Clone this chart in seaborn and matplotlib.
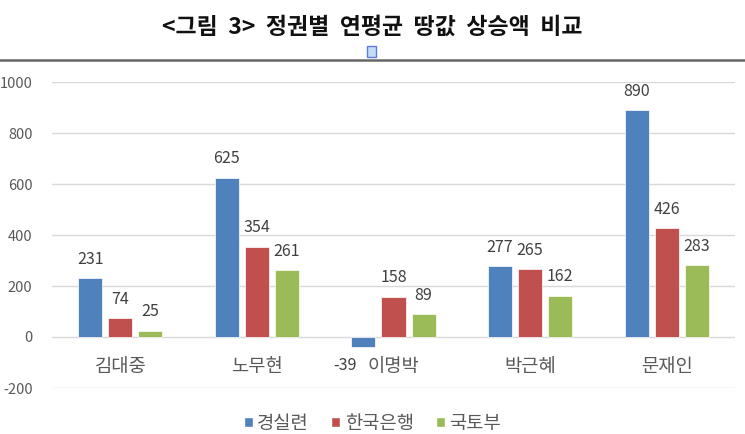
import matplotlib
matplotlib.use("Agg")
import matplotlib.pyplot as plt
import seaborn as sns
import pandas as pd
from matplotlib.patches import Rectangle
from matplotlib.lines import Line2D

categories = ["김대중", "노무현", "이명박", "박근혜", "문재인"]
series = ["경실련", "한국은행", "국토부"]
v_gyeongsil = [231, 625, -39, 277, 890]
v_bok = [74, 354, 158, 265, 426]
v_molit = [25, 261, 89, 162, 283]
yticks = [-200, 0, 200, 400, 600, 800, 1000]
colors = ["#4F81BD", "#C0504D", "#9BBB59"]
title = "<그림  3>  정권별  연평균  땅값  상승액  비교"

rows = []
for name, vals in zip(series, [v_gyeongsil, v_bok, v_molit]):
    for c, v in zip(categories, vals):
        rows.append({"cat": c, "series": name, "value": v})
df = pd.DataFrame(rows)

sns.set_theme(style="white")
plt.rcParams['font.family'] = ['Noto Sans CJK KR', 'DejaVu Sans']

fig = plt.figure(figsize=(7.45, 4.34), dpi=100)
ax = fig.add_axes([52/745, 1-388/434, (735-52)/745, (388-82)/434])

sns.barplot(data=df, x="cat", y="value", hue="series", order=categories,
            hue_order=series, palette=colors, width=0.66, gap=0.2,
            saturation=1, ax=ax, legend=False, edgecolor="white", linewidth=0.5)

ax.set_ylim(-200, 1000)
ax.set_xlim(-0.5, len(categories) - 0.5)
ax.set_yticks(yticks)
ax.set_yticklabels([str(t) for t in yticks], color="#595959", fontsize=10.5)
ax.tick_params(axis="y", length=0, pad=14)
ax.set_xticks([])
ax.set_xlabel("")
ax.set_ylabel("")
for s in ax.spines.values():
    s.set_visible(False)
ax.yaxis.grid(True, color="#D9D9D9", linewidth=1)
ax.set_axisbelow(True)

# data labels
for cont in ax.containers:
    for bar in cont:
        h = bar.get_height()
        x = bar.get_x() + bar.get_width() / 2
        if h >= 0:
            ax.annotate(f"{int(round(h))}", (x, h), xytext=(0, 13.5), textcoords="offset points",
                        ha="center", va="center", fontsize=11.5, color="#404040")
        else:
            ax.annotate(f"{int(round(h))}", (x, h), xytext=(-13, -13), textcoords="offset points",
                        ha="center", va="center", fontsize=11.5, color="#404040")

# category labels near zero line
for i, c in enumerate(categories):
    ax.annotate(c, (i, 0), xytext=(0, -21), textcoords="offset points",
                ha="center", va="center", fontsize=13.5, color="#595959")

# title
fig.text(0.5, 1-27/434, title, ha="center", va="center", fontsize=16.5,
         fontweight="bold", color="#111111")
# separator line
fig.add_artist(Line2D([0, 1], [1-60/434, 1-60/434], color="#666666", linewidth=1.8))
# small marker square under title
fig.add_artist(Rectangle((367/745, 1-57/434), 9/745, 11/434, facecolor="#C5DAF5",
                         edgecolor="#5B7BD5", linewidth=1))

# legend
handles = [Rectangle((0, 0), 1, 1, facecolor=c) for c in colors]
fig.legend(handles, series, loc="center", bbox_to_anchor=(0.5, 1-423/434), ncol=3,
           frameon=False, fontsize=13.5, handlelength=0.45, handleheight=0.45,
           handletextpad=0.25, columnspacing=1.2, labelcolor="#595959")

fig.savefig("out.png", dpi=100)
